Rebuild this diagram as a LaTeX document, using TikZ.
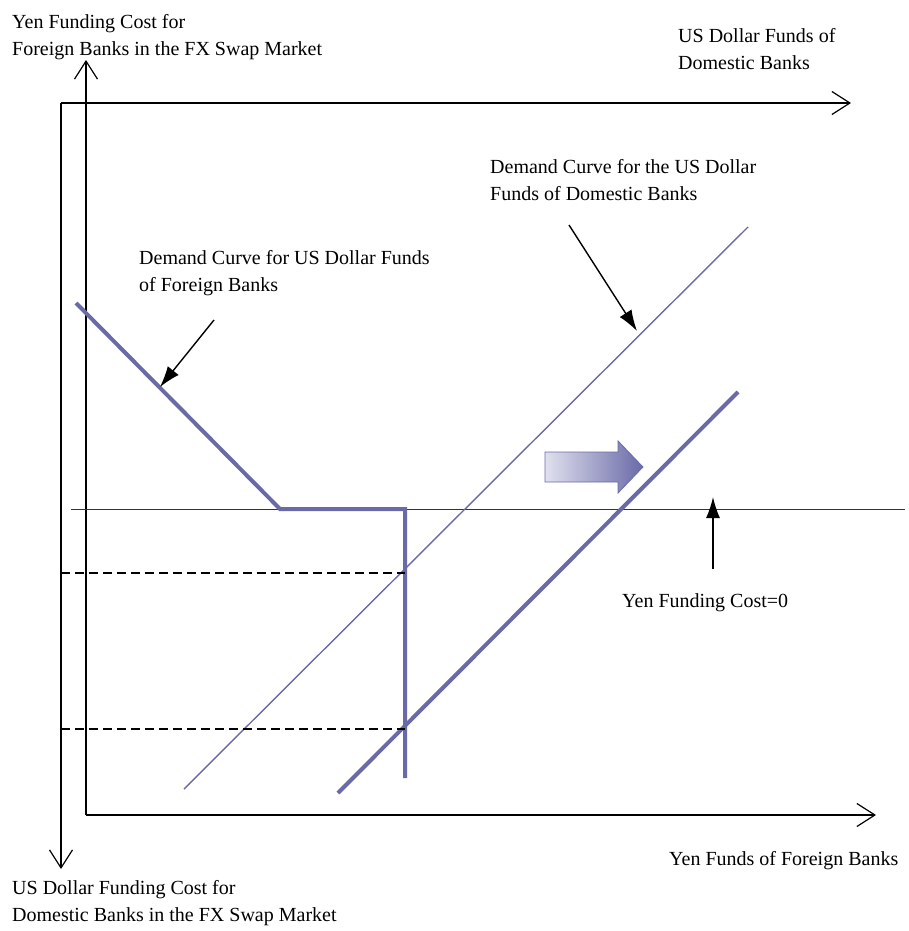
\documentclass[tikz,border=0pt]{standalone}
\usepackage{fontspec}
\setmainfont{Liberation Serif}
\usepackage{xcolor}
\usepackage{tikz}
\usetikzlibrary{arrows.meta,positioning}
\definecolor{curveblue}{RGB}{106,106,168}
\definecolor{shiftlight}{RGB}{224,224,238}
\tikzset{axisline/.style={line width=1.2pt,-{Straight Barb[length=18pt,width=23pt,line width=1.2pt]}},
  curvethick/.style={curveblue,line width=4pt},
  curvethin/.style={curveblue,line width=1.4pt},
  callout/.style={line width=1.4pt,-{Latex[length=21pt,width=14pt]}},
  labeltext/.style={anchor=north west,inner sep=0pt,align=left,font=\fontsize{20}{27}\selectfont}}

\begin{document}
\begin{tikzpicture}[>=Latex,x=1pt,y=-1pt]
    \useasboundingbox (0,0) rectangle (908,931);

    % two sets of axes
    \coordinate (yenTop) at (86,60);
    \coordinate (yenCorner) at (86,815);
    \coordinate (yenRight) at (876,815);
    \coordinate (usdLeft) at (61,869);
    \coordinate (usdCorner) at (61,103);
    \coordinate (usdRight) at (851,103);
    \draw[axisline] (yenCorner) -- (yenTop);
    \draw[axisline] (yenCorner) -- (yenRight);
    \draw[axisline] (usdCorner) -- (usdLeft);
    \draw[axisline] (usdCorner) -- (usdRight);

    % zero line
    \coordinate (zeroL) at (71,509);
    \coordinate (zeroR) at (905,509);
    \draw[black!80,line width=0.9pt] (zeroL) -- (zeroR);

    % demand of foreign banks
    \coordinate (fStart) at (76,303);
    \coordinate (fKink) at (280,509);
    \coordinate (fCorner) at (405,509);
    \coordinate (fEnd) at (405,778);
    \draw[curvethick,line join=miter] (fStart) -- (fKink) -- (fCorner) -- (fEnd);

    % demand of domestic banks, before and after
    \coordinate (dLow) at (184,789);
    \coordinate (dHigh) at (748,227);
    \draw[curvethin] (dLow) -- (dHigh);
    \coordinate (sLow) at (338,793);
    \coordinate (sHigh) at (738,392);
    \draw[curvethick] (sLow) -- (sHigh);

    % dashed levels
    \coordinate (dashA) at (61,573);
    \coordinate (dashAend) at (405,573);
    \coordinate (dashB) at (61,729);
    \coordinate (dashBend) at (405,729);
    \draw[line width=1.5pt,dash pattern=on 9pt off 5pt] (dashA) -- (dashAend);
    \draw[line width=1.5pt,dash pattern=on 9pt off 5pt] (dashB) -- (dashBend);

    % shift arrow
    \shade[left color=shiftlight,right color=curveblue,draw=curveblue,line width=0.8pt]
      (545,452) -- (618,452) -- (618,441) -- (643,467) -- (618,493) -- (618,482) -- (545,482) -- cycle;

    % callouts
    \coordinate (cfFrom) at (214,320);
    \coordinate (cfTo) at (160,387);
    \draw[callout] (cfFrom) -- (cfTo);
    \coordinate (cdFrom) at (569,225);
    \coordinate (cdTo) at (637,331);
    \draw[callout] (cdFrom) -- (cdTo);
    \coordinate (czFrom) at (713,569);
    \coordinate (czTo) at (713,497);
    \draw[callout] (czFrom) -- (czTo);

    % labels
    \node[labeltext] (yenAxisLbl) at (12,14) {Yen Funding Cost for\\Foreign Banks in the FX Swap Market};
    \node[labeltext] (usdAxisLbl) at (678,28) {US Dollar Funds of\\Domestic Banks};
    \node[labeltext] (domLbl) at (490,159) {Demand Curve for the US Dollar\\Funds of Domestic Banks};
    \node[labeltext] (forLbl) at (139,250) {Demand Curve for US Dollar Funds\\of Foreign Banks};
    \node[labeltext] (zeroLbl) at (622,593) {Yen Funding Cost=0};
    \node[labeltext] (yenFundsLbl) at (669,851) {Yen Funds of Foreign Banks};
    \node[labeltext] (usdCostLbl) at (12,880) {US Dollar Funding Cost for\\Domestic Banks in the FX Swap Market};
  \end{tikzpicture}
\end{document}
